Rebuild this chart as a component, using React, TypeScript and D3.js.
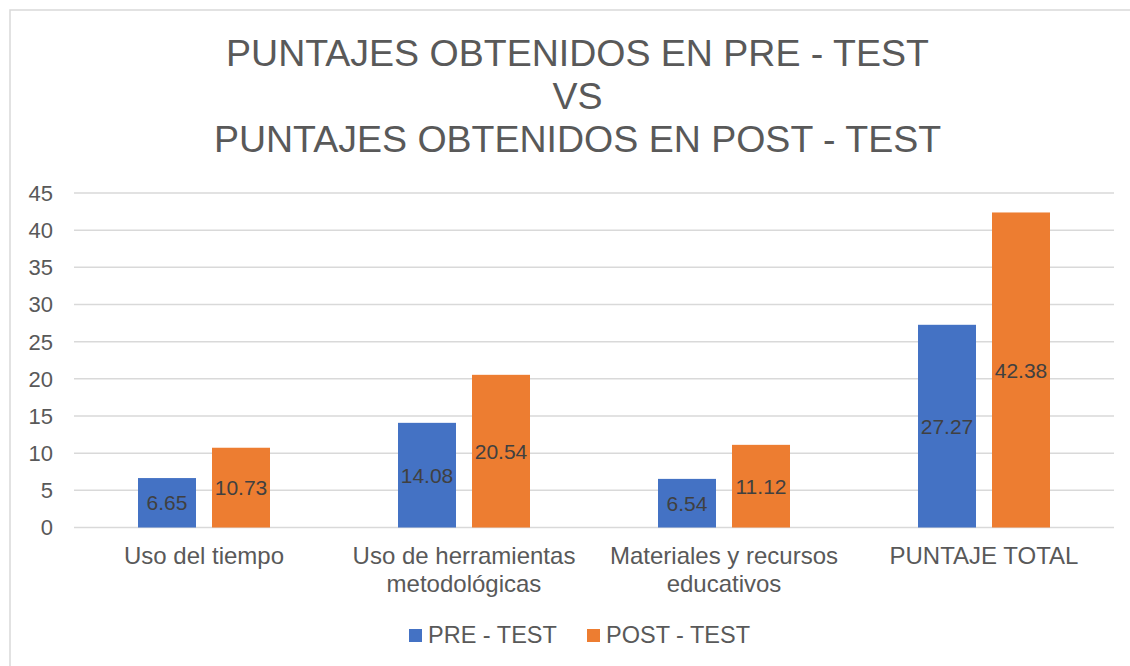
import React from "react";
import * as d3 from "d3";

const categories = [
  ["Uso del tiempo"],
  ["Uso de herramientas", "metodológicas"],
  ["Materiales y recursos", "educativos"],
  ["PUNTAJE TOTAL"],
];
const preTest = [6.65, 14.08, 6.54, 27.27];
const postTest = [10.73, 20.54, 11.12, 42.38];
const seriesNames = ["PRE - TEST", "POST - TEST"];
const yTicks = [0, 5, 10, 15, 20, 25, 30, 35, 40, 45];
const titleLines = ["PUNTAJES OBTENIDOS EN PRE - TEST", "VS", "PUNTAJES OBTENIDOS EN POST - TEST"];

const W = 1130;
const H = 666;
const colors = ["#4472C4", "#ED7D31"];
const FONT = "'Liberation Sans', Arial, sans-serif";

export default function App() {
  const left = 74;
  const right = 1114;
  const top = 193;
  const bottom = 527.5;

  const x0 = d3.scaleBand().domain(categories.map((_, i) => String(i))).range([left, right]).paddingInner(0).paddingOuter(0);
  const y = d3.scaleLinear().domain([0, 45]).range([bottom, top]);
  const barW = 58;
  const gap = 16;
  const series = [preTest, postTest];

  return (
    <svg width={W} height={H} style={{ position: "absolute", left: 0, top: 0 }} fontFamily={FONT}>
      <rect x={0} y={0} width={W} height={H} fill="#fff" />
      <rect x={10} y={10} width={W + 20} height={H + 20} fill="#fff" stroke="#D9D9D9" strokeWidth={1.5} />
      {titleLines.map((t, i) => (
        <text key={i} x={577.5} y={66 + i * 43} textAnchor="middle" fontSize={37.5} fill="#595959">
          {t}
        </text>
      ))}
      {yTicks.map((t) => (
        <g key={t}>
          <line x1={left} x2={right} y1={y(t)} y2={y(t)} stroke="#D9D9D9" strokeWidth={1.5} />
          <text x={53} y={y(t)} dy="0.36em" textAnchor="end" fontSize={22} fill="#595959">
            {t}
          </text>
        </g>
      ))}
      {categories.map((c, i) => {
        const cx = (x0(String(i)) as number) + x0.bandwidth() / 2;
        return (
          <g key={i}>
            {series.map((s, j) => {
              const bx = j === 0 ? cx - gap / 2 - barW : cx + gap / 2;
              const v = s[i];
              return (
                <g key={j}>
                  <rect x={bx} y={y(v)} width={barW} height={y(0) - y(v)} fill={colors[j]} />
                  <text x={bx + barW / 2} y={(y(v) + y(0)) / 2} dy="0.36em" textAnchor="middle" fontSize={21} fill="#404040">
                    {v.toFixed(2)}
                  </text>
                </g>
              );
            })}
            {c.map((line, k) => (
              <text key={k} x={cx} y={564 + k * 28} textAnchor="middle" fontSize={24} fill="#595959">
                {line}
              </text>
            ))}
          </g>
        );
      })}
      {seriesNames.map((n, j) => {
        const lx = j === 0 ? 409 : 587;
        return (
          <g key={n}>
            <rect x={lx} y={629} width={13} height={13} fill={colors[j]} />
            <text x={lx + 19} y={643} fontSize={23.5} fill="#595959">
              {n}
            </text>
          </g>
        );
      })}
    </svg>
  );
}
